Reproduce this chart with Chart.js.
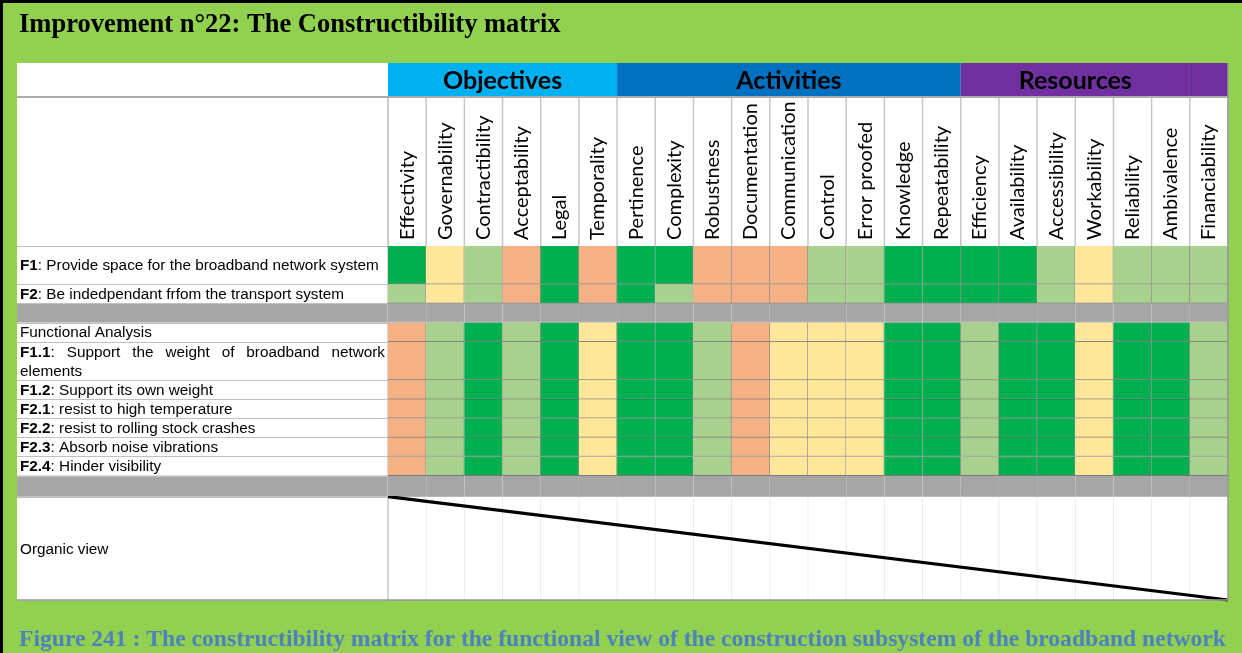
<!DOCTYPE html>
<html>
<head>
<meta charset="utf-8">
<script src="https://cdn.jsdelivr.net/npm/chart.js@4.4.1/dist/chart.umd.min.js"></script>
<style>
html,body{margin:0;padding:0;background:#92D050;overflow:hidden}
canvas{display:block}
</style>
</head>
<body>
<canvas id="c" width="1242" height="653"></canvas>
<script>
// ---------------- DATA ----------------
const titleText = 'Improvement n°22: The Constructibility matrix';
const captionText = 'Figure 241 : The constructibility matrix for the functional view of the construction subsystem of the broadband network';

const columns = ['Effectivity','Governability','Contractibility','Acceptability','Legal','Temporality',
  'Pertinence','Complexity','Robustness','Documentation','Communication','Control','Error proofed',
  'Knowledge','Repeatability','Efficiency','Availability','Accessibility','Workability','Reliability',
  'Ambivalence','Financiability'];
const groupNames = ['Objectives','Activities','Resources',''];
const groupSizes = [6, 9, 6, 1];

const rowCodes = ['F1','F2','','','F1.1','F1.2','F2.1','F2.2','F2.3','F2.4','',''];
const rowTexts = [
  ': Provide space for the broadband network system',
  ': Be indedpendant frfom the transport system',
  '',
  'Functional Analysis',
  ': Support the weight of broadband network elements',
  ': Support its own weight',
  ': resist to high temperature',
  ': resist to rolling stock crashes',
  ': Absorb noise vibrations',
  ': Hinder visibility',
  '',
  'Organic view'
];
const rowKinds = ['rated','rated','separator','rated','rated','rated','rated','rated','rated','rated','separator','view'];

// ratings: 3 = strong (dark green), 2 = good (light green), 1 = medium (yellow), 0 = weak (orange)
const ratingsF1  = [3,1,2,0,3,0,3,3,0,0,0,2,2,3,3,3,3,2,1,2,2,2];
const ratingsF2  = [2,1,2,0,3,0,3,2,0,0,0,2,2,3,3,3,3,2,1,2,2,2];
const ratingsFA  = [0,2,3,2,3,1,3,3,2,0,1,1,1,3,3,2,3,3,1,3,3,2];
const ratingsF11 = [0,2,3,2,3,1,3,3,2,0,1,1,1,3,3,2,3,3,1,3,3,2];
const ratingsF12 = [0,2,3,2,3,1,3,3,2,0,1,1,1,3,3,2,3,3,1,3,3,2];
const ratingsF21 = [0,2,3,2,3,1,3,3,2,0,1,1,1,3,3,2,3,3,1,3,3,2];
const ratingsF22 = [0,2,3,2,3,1,3,3,2,0,1,1,1,3,3,2,3,3,1,3,3,2];
const ratingsF23 = [0,2,3,2,3,1,3,3,2,0,1,1,1,3,3,2,3,3,1,3,3,2];
const ratingsF24 = [0,2,3,2,3,1,3,3,2,0,1,1,1,3,3,2,3,3,1,3,3,2];
const rowRatings = [ratingsF1, ratingsF2, null, ratingsFA, ratingsF11, ratingsF12,
  ratingsF21, ratingsF22, ratingsF23, ratingsF24, null, null];

// ---------------- LAYOUT / STYLE ----------------
const rowUnits = [2,1,1,1,2,1,1,1,1,1,1.1,5.4];
const ratingColors = ['#F4B183','#FFE699','#A9D18E','#00B050'];
const groupColors = ['#00B0F0','#0070C0','#7030A0','#7030A0'];
const sepColor = '#A6A6A6';
const cellBorder = 'rgba(0,0,0,0.45)';
const tableLeft = 17, tableTop = 63, bandBottom = 97;
const labelFont = '"Liberation Sans", Arial, sans-serif';
const labelSize = 15.3;
const colFontSize = 20;

const rowStart = [];
let acc = 0;
rowUnits.forEach(u => { rowStart.push(acc); acc += u; });
const totalUnits = acc;
const lastGroupEdge = groupSizes.slice(0, 3).reduce((a, b) => a + b, 0); // 21

const datasets = [];
rowKinds.forEach((kind, i) => {
  const y0 = rowStart[i], y1 = rowStart[i] + rowUnits[i];
  if (kind === 'rated') {
    datasets.push({
      type: 'bar',
      label: (rowCodes[i] + rowTexts[i]) || 'row',
      data: columns.map(() => [y0, y1]),
      backgroundColor: rowRatings[i].map(v => ratingColors[v]),
      borderColor: cellBorder,
      borderWidth: {top: 0, left: 0, right: 1, bottom: 1},
      borderSkipped: false,
      grouped: false,
      barPercentage: 1,
      categoryPercentage: 1,
      xAxisID: 'x', yAxisID: 'y'
    });
  } else if (kind === 'separator') {
    datasets.push({
      type: 'bar',
      label: 'separator',
      data: columns.map(() => [y0, y1]),
      backgroundColor: sepColor,
      borderColor: 'rgba(0,0,0,0.28)',
      borderWidth: ctx => ctx.dataIndex === lastGroupEdge - 1 ? {top:0,left:0,right:1,bottom:1} : {top:0,left:0,right:0,bottom:1},
      borderSkipped: false,
      grouped: false,
      barPercentage: 1,
      categoryPercentage: 1,
      xAxisID: 'x', yAxisID: 'y'
    });
  }
});
// organic view diagonal
const organicIdx = rowKinds.indexOf('view');
datasets.push({
  type: 'line',
  label: 'organic',
  data: [{x: 0, y: rowStart[organicIdx]}, {x: 1, y: totalUnits}],
  borderColor: '#000',
  borderWidth: 3.2,
  pointRadius: 0,
  xAxisID: 'x2', yAxisID: 'y',
  clip: false
});

function drawRich(ctx, code, text, x, yMid, maxW, lineH) {
  const normal = labelSize + 'px ' + labelFont, bold = 'bold ' + labelSize + 'px ' + labelFont;
  const parts = text.split(' ');
  const words = parts.map((w, k) => {
    const segs = [];
    if (k === 0 && code) segs.push({t: code, b: true});
    if (w) segs.push({t: w, b: false});
    let wd = 0;
    segs.forEach(s => { ctx.font = s.b ? bold : normal; s.w = ctx.measureText(s.t).width; wd += s.w; });
    return {segs, w: wd};
  });
  ctx.font = normal;
  const sp = ctx.measureText(' ').width;
  const lines = [];
  let cur = [], curW = 0;
  words.forEach(wd => {
    const add = cur.length ? sp + wd.w : wd.w;
    if (cur.length && curW + add > maxW) { lines.push({words: cur, w: curW}); cur = [wd]; curW = wd.w; }
    else { cur.push(wd); curW += add; }
  });
  if (cur.length) lines.push({words: cur, w: curW});
  const y0 = yMid - (lines.length - 1) * lineH / 2;
  lines.forEach((ln, li) => {
    let gap = sp;
    if (li < lines.length - 1 && ln.words.length > 1) {
      const wsum = ln.words.reduce((a, b) => a + b.w, 0);
      gap = (maxW - wsum) / (ln.words.length - 1);
    }
    let cx = x;
    ln.words.forEach(wd => {
      wd.segs.forEach(s => { ctx.font = s.b ? bold : normal; ctx.fillText(s.t, cx, y0 + li * lineH); cx += s.w; });
      cx += gap;
    });
  });
}

const matrixDecor = {
  id: 'matrixDecor',
  beforeDraw(chart) {
    const {ctx, chartArea: ca} = chart;
    const x = chart.scales.x, y = chart.scales.y;
    const W = chart.width, H = chart.height;
    const colW = x.getPixelForValue(1) - x.getPixelForValue(0);
    const edge = i => x.getPixelForValue(i) - colW / 2;
    ctx.save();
    ctx.fillStyle = '#92D050'; ctx.fillRect(0, 0, W, H);
    ctx.fillStyle = '#000'; ctx.fillRect(0, 0, 3, H); ctx.fillRect(0, 0, W, 3);
    ctx.fillStyle = '#fff'; ctx.fillRect(tableLeft, tableTop, ca.right - tableLeft, ca.bottom - tableTop);
    // group band
    let c = 0;
    groupNames.forEach((g, gi) => {
      const xa = edge(c), xb = edge(c + groupSizes[gi]);
      ctx.fillStyle = groupColors[gi];
      ctx.fillRect(xa, tableTop, xb - xa, bandBottom - tableTop);
      if (g) {
        ctx.fillStyle = '#000';
        ctx.font = 'bold 25px Lato, sans-serif';
        ctx.textAlign = 'center'; ctx.textBaseline = 'middle';
        ctx.fillText(g, (xa + xb) / 2, (tableTop + bandBottom) / 2 + 1);
      }
      c += groupSizes[gi];
    });
    ctx.strokeStyle = 'rgba(0,0,0,0.18)'; ctx.lineWidth = 1.5;
    ctx.beginPath(); ctx.moveTo(edge(lastGroupEdge), tableTop); ctx.lineTo(edge(lastGroupEdge), bandBottom); ctx.stroke();
    // header column lines
    ctx.strokeStyle = '#c6c6c6'; ctx.lineWidth = 1.5;
    for (let i = 0; i <= columns.length; i++) {
      ctx.beginPath(); ctx.moveTo(edge(i), bandBottom); ctx.lineTo(edge(i), ca.top); ctx.stroke();
    }
    // label column separators
    rowKinds.forEach((k, i) => {
      if (k === 'separator') {
        const ya = y.getPixelForValue(rowStart[i]), yb = y.getPixelForValue(rowStart[i] + rowUnits[i]);
        ctx.fillStyle = sepColor; ctx.fillRect(tableLeft, ya, edge(0) - tableLeft, yb - ya);
      }
    });
    ctx.strokeStyle = '#c0c0c0'; ctx.lineWidth = 1;
    for (let i = 0; i <= rowUnits.length; i++) {
      const yy = i < rowUnits.length ? y.getPixelForValue(rowStart[i]) : ca.bottom;
      ctx.beginPath(); ctx.moveTo(tableLeft, Math.round(yy) + 0.5); ctx.lineTo(edge(0), Math.round(yy) + 0.5); ctx.stroke();
    }
    ctx.strokeStyle = '#c8c8c8'; ctx.lineWidth = 1.5;
    ctx.beginPath(); ctx.moveTo(edge(0), bandBottom); ctx.lineTo(edge(0), ca.bottom); ctx.stroke();
    // organic view grid
    const oa = y.getPixelForValue(rowStart[organicIdx]);
    ctx.strokeStyle = '#ebebeb'; ctx.lineWidth = 1;
    for (let i = 1; i < columns.length; i++) {
      ctx.beginPath(); ctx.moveTo(edge(i), oa); ctx.lineTo(edge(i), ca.bottom); ctx.stroke();
    }
    // band bottom line
    ctx.strokeStyle = '#adadad'; ctx.lineWidth = 2;
    ctx.beginPath(); ctx.moveTo(tableLeft, bandBottom); ctx.lineTo(ca.right, bandBottom); ctx.stroke();
    ctx.restore();
  },
  afterDraw(chart) {
    const {ctx, chartArea: ca} = chart;
    const x = chart.scales.x, y = chart.scales.y;
    const colW = x.getPixelForValue(1) - x.getPixelForValue(0);
    const left = x.getPixelForValue(0) - colW / 2;
    ctx.save();
    ctx.strokeStyle = '#999'; ctx.lineWidth = 1.5;
    ctx.beginPath(); ctx.moveTo(tableLeft, ca.bottom); ctx.lineTo(ca.right, ca.bottom); ctx.stroke();
    ctx.beginPath(); ctx.moveTo(ca.right, tableTop); ctx.lineTo(ca.right, ca.bottom); ctx.stroke();
    ctx.fillStyle = '#000'; ctx.textAlign = 'left'; ctx.textBaseline = 'middle';
    rowKinds.forEach((k, i) => {
      if (!rowCodes[i] && !rowTexts[i]) return;
      const ya = y.getPixelForValue(rowStart[i]), yb = y.getPixelForValue(rowStart[i] + rowUnits[i]);
      drawRich(ctx, rowCodes[i], rowTexts[i], 20, (ya + yb) / 2 + 1, left - 23, 19);
    });
    ctx.restore();
  }
};

new Chart(document.getElementById('c'), {
  type: 'bar',
  data: {labels: columns, datasets},
  options: {
    responsive: false,
    animation: false,
    devicePixelRatio: 1,
    layout: {padding: {left: 19, right: 14, top: 0, bottom: 0}},
    plugins: {
      legend: {display: false},
      tooltip: {enabled: false},
      title: {
        display: true, text: titleText, align: 'start', color: '#000',
        font: {family: '"Liberation Serif", "Times New Roman", serif', size: 26.5, weight: 'bold', lineHeight: '32px'},
        padding: {top: 9, bottom: 22}
      },
      subtitle: {
        display: true, text: captionText, position: 'bottom', align: 'start', color: '#4F81BD',
        font: {family: '"Liberation Serif", "Times New Roman", serif', size: 23.6, weight: 'bold', lineHeight: '24px'},
        padding: {top: 28, bottom: 1}
      }
    },
    scales: {
      x: {
        type: 'category', position: 'top', offset: true,
        grid: {display: false, drawTicks: false}, border: {display: false},
        ticks: {autoSkip: false, minRotation: 90, maxRotation: 90, padding: 6, color: '#000',
          labelOffset: colFontSize * 1.2,
          font: {family: 'Lato, sans-serif', size: colFontSize, lineHeight: 1.2}},
        afterFit: s => { s.height = 183; s.paddingLeft = 0; s.paddingRight = 0; }
      },
      x2: {type: 'linear', min: 0, max: 1, display: false, offset: false},
      y: {
        type: 'linear', reverse: true, min: 0, max: totalUnits,
        grid: {display: false}, border: {display: false},
        ticks: {display: false},
        afterFit: s => { s.width = 369; }
      }
    }
  },
  plugins: [matrixDecor]
});
</script>
</body>
</html>
